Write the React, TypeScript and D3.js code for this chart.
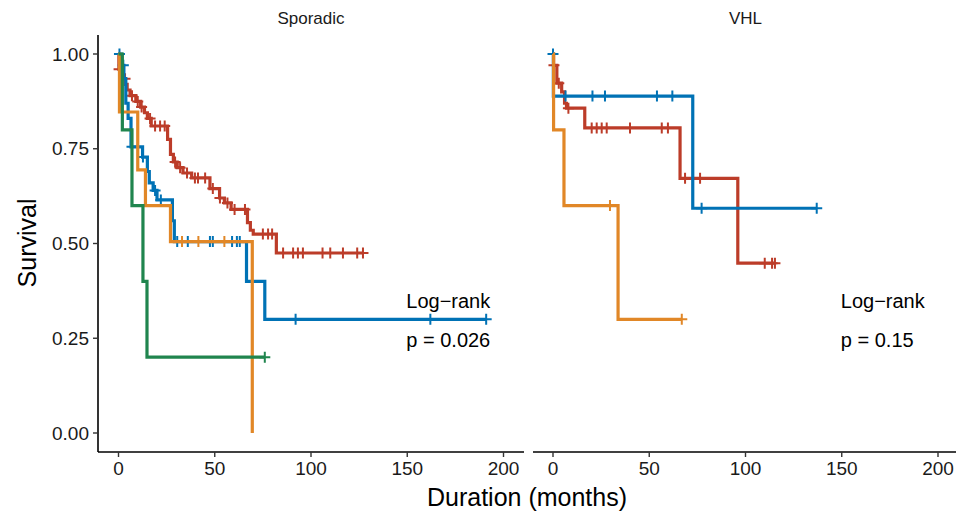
import React from 'react';
import * as d3 from 'd3';

// ---------- data ----------
const xTicks = [0, 50, 100, 150, 200];
const yTicks = [0, 0.25, 0.5, 0.75, 1];
const yTickLabels = ['0.00', '0.25', '0.50', '0.75', '1.00'];
const panelNames = ['Sporadic', 'VHL'];
const testLabel = 'Log\u2212rank';
const pValues = ['p = 0.026', 'p = 0.15'];
const groupColors = ['#BC3C29', '#0072B5', '#E18727', '#20854E'];

// Sporadic panel
const spoRedTimes = [0.2, 1.5, 3.5, 4.5, 6, 9, 11.5, 13.5, 15, 17, 25.5, 27, 28.5, 30.5, 33.5, 38, 47.5, 52.5, 55, 58.5, 67, 68.5, 70, 82];
const spoRedSurv = [0.96, 0.935, 0.92, 0.905, 0.89, 0.875, 0.86, 0.845, 0.83, 0.81, 0.775, 0.735, 0.715, 0.7, 0.686, 0.673, 0.645, 0.62, 0.607, 0.59, 0.555, 0.535, 0.525, 0.475];
const spoRedCensor = [0.3, 3.4, 7, 10, 12, 16.4, 19, 21.6, 24, 29.4, 32, 35.6, 39.7, 41.3, 45, 49, 52.7, 56.6, 60.3, 65.7, 75, 77.7, 79.8, 85.5, 90.7, 93.2, 95.8, 106, 110, 116.6, 124, 127];

const spoBlueTimes = [1.5, 2.8, 3.8, 5, 6.5, 12.5, 15, 16, 18, 20, 28, 29, 66.5, 76];
const spoBlueSurv = [0.97, 0.935, 0.87, 0.83, 0.755, 0.728, 0.69, 0.66, 0.64, 0.615, 0.56, 0.505, 0.4, 0.3];
const spoBlueCensor = [0.5, 2.5, 7, 12.7, 19, 22, 30.5, 36, 47.5, 49, 59, 61.5, 63, 92, 162, 191];

const spoOrangeTimes = [0.5, 10, 14, 27, 69.5];
const spoOrangeSurv = [0.847, 0.694, 0.6, 0.505, 0];
const spoOrangeCensor = [33, 41.5, 55];

const spoGreenTimes = [2, 7, 12.7, 14.8];
const spoGreenSurv = [0.8, 0.6, 0.4, 0.2];
const spoGreenCensor = [76];

// VHL panel
const vhlRedTimes = [0.3, 2, 4.5, 6, 7, 16.5, 66, 96];
const vhlRedSurv = [0.97, 0.923, 0.9, 0.87, 0.857, 0.805, 0.672, 0.448];
const vhlRedCensor = [0.5, 3, 8, 20.1, 22.7, 25.3, 27.9, 40, 56.5, 59.7, 68.6, 76.4, 110, 113.8, 115.3];

const vhlBlueTimes = [0.2, 72.6];
const vhlBlueSurv = [0.889, 0.593];
const vhlBlueCensor = [0, 6.5, 20.5, 27, 54, 62, 77.2, 137];

const vhlOrangeTimes = [0.3, 5.7, 33.8];
const vhlOrangeSurv = [0.8, 0.6, 0.3];
const vhlOrangeCensor = [29.6, 66.9];

const vhlGreenTimes: number[] = [];
const vhlGreenSurv: number[] = [];
const vhlGreenCensor: number[] = [];

const panelData = [
  [
    { times: spoRedTimes, surv: spoRedSurv, censor: spoRedCensor },
    { times: spoBlueTimes, surv: spoBlueSurv, censor: spoBlueCensor },
    { times: spoOrangeTimes, surv: spoOrangeSurv, censor: spoOrangeCensor },
    { times: spoGreenTimes, surv: spoGreenSurv, censor: spoGreenCensor },
  ],
  [
    { times: vhlRedTimes, surv: vhlRedSurv, censor: vhlRedCensor },
    { times: vhlBlueTimes, surv: vhlBlueSurv, censor: vhlBlueCensor },
    { times: vhlOrangeTimes, surv: vhlOrangeSurv, censor: vhlOrangeCensor },
    { times: vhlGreenTimes, surv: vhlGreenSurv, censor: vhlGreenCensor },
  ],
];

// ---------- layout ----------
const W = 956;
const H = 512;
const FONT = '"Liberation Sans", Arial, Helvetica, sans-serif';
const panels = [
  { left: 98, right: 524, zero: 118.5, two: 503.5 },
  { left: 533, right: 958, zero: 553, two: 938 },
];
const TOP = 35;
const BOTTOM = 452;
const yScale = d3.scaleLinear().domain([0, 1]).range([433, 54]);

function survAt(times: number[], surv: number[], t: number) {
  let s = 1;
  for (let i = 0; i < times.length; i++) if (times[i] <= t) s = surv[i];
  return s;
}

export default function App() {
  return (
    <svg width={W} height={H} style={{ position: 'absolute', left: 0, top: 0, display: 'block', background: '#fff' }} fontFamily={FONT}>
      <rect width={W} height={H} fill="#fff" />
      {panels.map((p, pi) => {
        const x = d3.scaleLinear().domain([0, 200]).range([p.zero, p.two]);
        const line = d3
          .line<[number, number]>()
          .x((d) => x(d[0]))
          .y((d) => yScale(d[1]))
          .curve(d3.curveStepAfter);
        return (
          <g key={pi}>
            {/* strip */}
            <text x={(p.left + p.right) / 2} y={18} textAnchor="middle" dominantBaseline="central" fontSize={17} fill="#1a1a1a">
              {panelNames[pi]}
            </text>
            {/* curves */}
            {panelData[pi].map((g, gi) => {
              if (g.times.length === 0 && g.censor.length === 0) return null;
              const end = Math.max(g.times.length ? g.times[g.times.length - 1] : 0, g.censor.length ? g.censor[g.censor.length - 1] : 0);
              const pts: [number, number][] = [[0, 1]];
              g.times.forEach((t, i) => pts.push([t, g.surv[i]]));
              pts.push([end, survAt(g.times, g.surv, end)]);
              return (
                <g key={gi}>
                  <path d={line(pts) || ''} fill="none" stroke={groupColors[gi]} strokeWidth={3.2} strokeLinejoin="miter" />
                  {g.censor.map((c, ci) => {
                    const cx = x(c);
                    const cy = yScale(survAt(g.times, g.surv, c));
                    return (
                      <path key={ci} d={`M${cx - 5.5},${cy}H${cx + 5.5}M${cx},${cy - 5.5}V${cy + 5.5}`} stroke={groupColors[gi]} strokeWidth={2} fill="none" />
                    );
                  })}
                </g>
              );
            })}
            {/* x axis */}
            <line x1={p.left} x2={p.right} y1={BOTTOM} y2={BOTTOM} stroke="#000" strokeWidth={1.6} />
            {xTicks.map((t) => (
              <g key={t}>
                <line x1={x(t)} x2={x(t)} y1={BOTTOM} y2={BOTTOM + 5} stroke="#333" strokeWidth={1.4} />
                <text x={x(t)} y={468} textAnchor="middle" dominantBaseline="central" fontSize={19} fill="#1a1a1a">
                  {t}
                </text>
              </g>
            ))}
            {/* log-rank annotation */}
            <text x={x(149.5)} y={301} dominantBaseline="central" fontSize={20} fill="#000">
              {testLabel}
            </text>
            <text x={x(149.5)} y={340} dominantBaseline="central" fontSize={20} fill="#000">
              {pValues[pi]}
            </text>
          </g>
        );
      })}
      {/* y axis on left panel */}
      <line x1={98} x2={98} y1={TOP} y2={BOTTOM} stroke="#000" strokeWidth={1.6} />
      {yTicks.map((t, i) => (
        <g key={t}>
          <line x1={93} x2={98} y1={yScale(t)} y2={yScale(t)} stroke="#333" strokeWidth={1.4} />
          <text x={89} y={yScale(t)} textAnchor="end" dominantBaseline="central" fontSize={19} fill="#1a1a1a">
            {yTickLabels[i]}
          </text>
        </g>
      ))}
      <text transform={`translate(27,243) rotate(-90)`} textAnchor="middle" dominantBaseline="central" fontSize={25} fill="#000">
        Survival
      </text>
      <text x={527} y={497} textAnchor="middle" dominantBaseline="central" fontSize={25} fill="#000">
        Duration (months)
      </text>
    </svg>
  );
}
